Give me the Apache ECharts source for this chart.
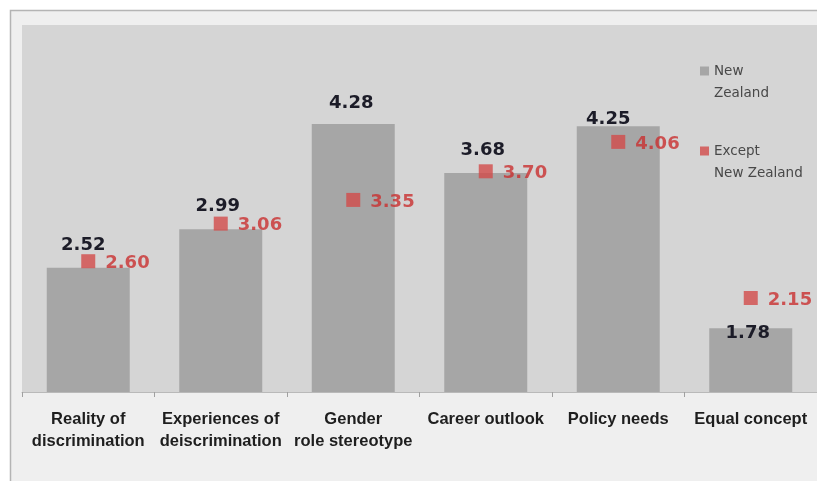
<!DOCTYPE html>
<html>
<head>
<meta charset="utf-8">
<style>
  html, body { margin: 0; padding: 0; background: #ffffff; }
  #chart { width: 817px; height: 481px; }
</style>
<script src="https://cdn.jsdelivr.net/npm/echarts@6/dist/echarts.min.js"></script>
</head>
<body>
<div id="chart"></div>
<script>
// Mean scores by dimension
const categories = [
  'Reality of\ndiscrimination',
  'Experiences of\ndeiscrimination',
  'Gender\nrole stereotype',
  'Career outlook',
  'Policy needs',
  'Equal concept'
];
const newZealand = [2.52, 2.99, 4.28, 3.68, 4.25, 1.78];
const exceptNewZealand = [2.60, 3.06, 3.35, 3.70, 4.06, 2.15];
const seriesNames = ['New Zealand', 'Except New Zealand'];
// Legend captions, wrapped over two lines
const legendCaptions = { 'New Zealand': 'New\nZealand', 'Except New Zealand': 'Except\nNew Zealand' };

// Hand-placed offsets for the bar value labels so they clear the markers
const barLabelNudge = [[-5, -13], [-3, -14], [-2, -12], [-3, -14], [-10, 2], [-3, 14]];

const chart = echarts.init(document.getElementById('chart'), null, { renderer: 'canvas' });

chart.setOption({
  backgroundColor: '#ffffff',
  animation: false,
  graphic: [{
    type: 'rect',
    z: -10,
    silent: true,
    shape: { x: 10.5, y: 10.5, width: 830, height: 490 },
    style: { fill: '#efefef', stroke: '#b4b4b4', lineWidth: 1.5 }
  }],
  grid: {
    show: true,
    left: 22,
    top: 25,
    width: 797,
    height: 367,
    backgroundColor: '#d5d5d5',
    borderWidth: 0
  },
  legend: {
    orient: 'vertical',
    left: 695,
    top: 33,
    itemWidth: 9,
    itemHeight: 9,
    itemGap: 14,
    icon: 'rect',
    data: seriesNames,
    // leading blank line keeps the swatch level with the first caption line
    formatter: function (name) { return '\n' + legendCaptions[name]; },
    textStyle: {
      color: '#484848',
      fontFamily: 'DejaVu Sans',
      fontSize: 13.5,
      lineHeight: 22
    }
  },
  xAxis: {
    type: 'category',
    data: categories,
    axisLine: { show: true, lineStyle: { color: '#b9b9b9', width: 1 } },
    axisTick: { show: true, length: 5, lineStyle: { color: '#a0a0a0' } },
    axisLabel: {
      color: '#1e1e1e',
      fontFamily: 'Liberation Sans',
      fontWeight: 'bold',
      fontSize: 16.5,
      lineHeight: 22,
      margin: 16,
      interval: 0
    }
  },
  yAxis: {
    type: 'value',
    min: 1,
    max: 5.49,
    show: false,
    splitLine: { show: false }
  },
  series: [
    {
      name: seriesNames[0],
      type: 'bar',
      barWidth: 83,
      itemStyle: { color: '#a6a6a6' },
      data: newZealand.map(function (v, i) {
        return {
          value: v,
          label: { offset: barLabelNudge[i] }
        };
      }),
      label: {
        show: true,
        position: 'top',
        distance: 0,
        color: '#1c1c28',
        fontFamily: 'DejaVu Sans',
        fontWeight: 'bold',
        fontSize: 18,
        lineHeight: 18,
        formatter: function (p) { return p.value.toFixed(2); }
      },
      z: 2
    },
    {
      name: seriesNames[1],
      type: 'scatter',
      symbol: 'rect',
      symbolSize: 14,
      itemStyle: { color: '#d24b4a' },
      data: exceptNewZealand,
      label: {
        show: true,
        position: 'right',
        distance: 10,
        offset: [0, 2],
        color: '#c93030',
        fontFamily: 'DejaVu Sans',
        fontWeight: 'bold',
        fontSize: 18,
        formatter: function (p) { return p.value.toFixed(2); }
      },
      z: 3
    }
  ]
});
</script>
</body>
</html>
